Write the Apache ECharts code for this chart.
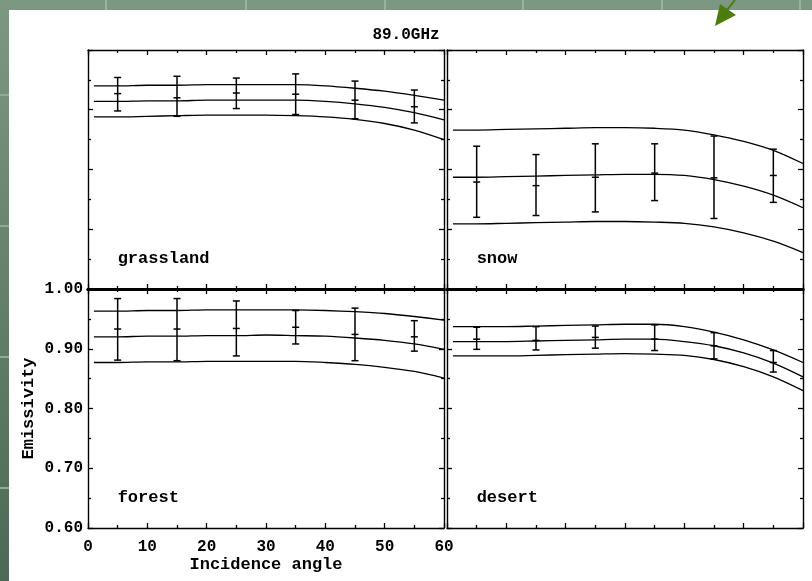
<!DOCTYPE html>
<html>
<head>
<meta charset="utf-8">
<script src="https://cdn.jsdelivr.net/npm/echarts@6/dist/echarts.min.js"></script>
<style>
html,body{margin:0;padding:0;width:812px;height:581px;overflow:hidden;}
#c{width:812px;height:581px;}
</style>
</head>
<body>
<div id="c"></div>
<script>
// ---- data ----
const titleText = '89.0GHz';
const panelNames = ['grassland', 'snow', 'forest', 'desert'];
const curveAngles = [1, 5, 10, 15, 20, 25, 30, 35, 40, 45, 50, 55, 60];
const barAngles = [5, 15, 25, 35, 45, 55];

const grasslandUpper  = [0.940, 0.940, 0.941, 0.941, 0.942, 0.942, 0.942, 0.942, 0.940, 0.936, 0.931, 0.924, 0.916];
const grasslandMiddle = [0.914, 0.914, 0.915, 0.915, 0.916, 0.916, 0.916, 0.916, 0.914, 0.910, 0.904, 0.895, 0.883];
const grasslandLower  = [0.888, 0.888, 0.889, 0.890, 0.891, 0.891, 0.891, 0.890, 0.888, 0.884, 0.877, 0.866, 0.850];
const grasslandBarHigh = [0.954, 0.956, 0.953, 0.960, 0.948, 0.933];
const grasslandBarMean = [0.927, 0.920, 0.928, 0.926, 0.916, 0.905];
const grasslandBarLow  = [0.898, 0.889, 0.902, 0.892, 0.885, 0.878];

const snowUpper  = [0.866, 0.866, 0.867, 0.868, 0.869, 0.870, 0.870, 0.869, 0.866, 0.858, 0.847, 0.832, 0.810];
const snowMiddle = [0.787, 0.787, 0.788, 0.789, 0.790, 0.791, 0.792, 0.792, 0.790, 0.783, 0.772, 0.757, 0.736];
const snowLower  = [0.709, 0.709, 0.710, 0.711, 0.712, 0.713, 0.713, 0.712, 0.710, 0.704, 0.694, 0.680, 0.661];
const snowBarHigh = [0.839, 0.825, 0.843, 0.843, 0.856, 0.834];
const snowBarMean = [0.779, 0.773, 0.787, 0.794, 0.786, 0.790];
const snowBarLow  = [0.720, 0.723, 0.729, 0.748, 0.718, 0.745];

const forestUpper  = [0.963, 0.963, 0.964, 0.964, 0.965, 0.965, 0.965, 0.965, 0.964, 0.962, 0.959, 0.954, 0.948];
const forestMiddle = [0.920, 0.920, 0.921, 0.921, 0.922, 0.922, 0.923, 0.922, 0.921, 0.918, 0.914, 0.908, 0.899];
const forestLower  = [0.877, 0.877, 0.878, 0.878, 0.879, 0.879, 0.879, 0.879, 0.877, 0.874, 0.869, 0.862, 0.851];
const forestBarHigh = [0.984, 0.984, 0.980, 0.964, 0.968, 0.947];
const forestBarMean = [0.933, 0.933, 0.934, 0.936, 0.924, 0.920];
const forestBarLow  = [0.881, 0.880, 0.888, 0.908, 0.880, 0.896];

const desertUpper  = [0.937, 0.937, 0.937, 0.938, 0.939, 0.940, 0.941, 0.941, 0.937, 0.928, 0.915, 0.898, 0.877];
const desertMiddle = [0.912, 0.912, 0.912, 0.913, 0.914, 0.915, 0.916, 0.916, 0.912, 0.905, 0.893, 0.876, 0.853];
const desertLower  = [0.888, 0.888, 0.888, 0.889, 0.890, 0.891, 0.892, 0.891, 0.889, 0.882, 0.870, 0.853, 0.830];
const desertBarHigh = [0.936, 0.937, 0.938, 0.940, 0.927, 0.897];
const desertBarMean = [0.916, 0.914, 0.919, 0.916, 0.905, 0.877];
const desertBarLow  = [0.899, 0.898, 0.901, 0.897, 0.883, 0.861];

const xMin = 0, xMax = 60, xStep = 10;
const yMin = 0.6, yMax = 1.0, yStep = 0.1;
const labelPos = [5, 0.65];

// ---- build chart ----
const FONT = "'Liberation Mono', 'DejaVu Sans Mono', monospace";
const panels = [
  {name: panelNames[0], curves: [grasslandUpper, grasslandMiddle, grasslandLower], bars: [grasslandBarLow, grasslandBarMean, grasslandBarHigh]},
  {name: panelNames[1], curves: [snowUpper, snowMiddle, snowLower], bars: [snowBarLow, snowBarMean, snowBarHigh]},
  {name: panelNames[2], curves: [forestUpper, forestMiddle, forestLower], bars: [forestBarLow, forestBarMean, forestBarHigh]},
  {name: panelNames[3], curves: [desertUpper, desertMiddle, desertLower], bars: [desertBarLow, desertBarMean, desertBarHigh]}
];

const grids = [
  {left: 88, top: 50, width: 356, height: 239},
  {left: 447, top: 50, width: 356, height: 239},
  {left: 88, top: 289, width: 356, height: 239},
  {left: 447, top: 289, width: 356, height: 239}
];

const xAxes = [], yAxes = [], series = [];
const lineW = 1.4;
grids.forEach((g, i) => {
  const isBottomRow = i >= 2;
  const isBL = i === 2;
  const common = {
    type: 'value', min: xMin, max: xMax, interval: xStep, gridIndex: i,
    splitLine: {show: false},
    axisTick: {show: true, inside: true, length: 5, lineStyle: {color: '#000', width: 1.3}},
    minorTick: {show: true, splitNumber: 2, length: 3, lineStyle: {color: '#000', width: 1.3}}
  };
  xAxes.push(Object.assign({}, common, {
    position: 'bottom',
    axisLine: {show: true, onZero: false, lineStyle: {color: '#000', width: isBottomRow ? lineW : 3}},
    axisLabel: {show: isBL, color: '#000', fontFamily: FONT, fontWeight: 'bold', fontSize: 16, margin: 11},
    name: isBL ? 'Incidence angle' : '',
    nameLocation: 'middle', nameGap: 28,
    nameTextStyle: {color: '#000', fontFamily: FONT, fontWeight: 'bold', fontSize: 17}
  }));
  xAxes.push(Object.assign({}, common, {
    position: 'top',
    axisLine: {show: true, onZero: false, lineStyle: {color: '#000', width: isBottomRow ? 3 : lineW}},
    axisLabel: {show: false}
  }));
  const ycommon = {
    type: 'value', min: yMin, max: yMax, interval: yStep, gridIndex: i,
    splitLine: {show: false},
    axisTick: {show: true, inside: true, length: 5, lineStyle: {color: '#000', width: 1.3}},
    minorTick: {show: true, splitNumber: 2, length: 3, lineStyle: {color: '#000', width: 1.3}}
  };
  yAxes.push(Object.assign({}, ycommon, {
    position: 'left',
    axisLine: {show: true, onZero: false, lineStyle: {color: '#000', width: lineW}},
    axisLabel: {show: isBL, color: '#000', fontFamily: FONT, fontWeight: 'bold', fontSize: 16, margin: 5,
      formatter: v => v.toFixed(2)},
    name: isBL ? 'Emissivity' : '',
    nameLocation: 'middle', nameGap: 51,
    nameTextStyle: {color: '#000', fontFamily: FONT, fontWeight: 'bold', fontSize: 17}
  }));
  yAxes.push(Object.assign({}, ycommon, {
    position: 'right',
    axisLine: {show: true, onZero: false, lineStyle: {color: '#000', width: lineW}},
    axisLabel: {show: false}
  }));

  const p = panels[i];
  p.curves.forEach(arr => {
    series.push({
      type: 'line', xAxisIndex: 2 * i, yAxisIndex: 2 * i,
      data: curveAngles.map((a, k) => [a, arr[k]]),
      smooth: 0.3, showSymbol: false, symbol: 'none',
      lineStyle: {color: '#000', width: 1.3},
      silent: true, animation: false
    });
  });
  series.push({
    type: 'custom', xAxisIndex: 2 * i, yAxisIndex: 2 * i,
    data: barAngles.map((a, k) => [a, p.bars[0][k], p.bars[1][k], p.bars[2][k]]),
    renderItem: function (params, api) {
      const lo = api.coord([api.value(0), api.value(1)]);
      const me = api.coord([api.value(0), api.value(2)]);
      const hi = api.coord([api.value(0), api.value(3)]);
      const w = 3.5;
      const st = {stroke: '#000', lineWidth: 1.5};
      return {
        type: 'group',
        children: [
          {type: 'line', shape: {x1: lo[0], y1: lo[1], x2: hi[0], y2: hi[1]}, style: st},
          {type: 'line', shape: {x1: lo[0] - w, y1: lo[1], x2: lo[0] + w, y2: lo[1]}, style: st},
          {type: 'line', shape: {x1: hi[0] - w, y1: hi[1], x2: hi[0] + w, y2: hi[1]}, style: st},
          {type: 'line', shape: {x1: me[0] - w, y1: me[1], x2: me[0] + w, y2: me[1]}, style: st}
        ]
      };
    },
    silent: true, animation: false
  });
  series.push({
    type: 'scatter', xAxisIndex: 2 * i, yAxisIndex: 2 * i,
    data: [labelPos], symbolSize: 0,
    itemStyle: {opacity: 1},
    label: {show: true, position: 'right', distance: 0, formatter: p.name, opacity: 1,
      color: '#000', fontFamily: FONT, fontWeight: 'bold', fontSize: 17},
    silent: true, animation: false
  });
});

const bgGraphics = [
  {type: 'rect', shape: {x: 0, y: 0, width: 812, height: 581}, z: -10, silent: true,
    style: {fill: new echarts.graphic.LinearGradient(0, 0, 0, 1, [
      {offset: 0, color: '#7d9882'}, {offset: 1, color: '#4c6957'}])}},
];
[106, 246, 385, 523, 662, 800].forEach(x => bgGraphics.push({type: 'line', z: -9, silent: true,
  shape: {x1: x, y1: 0, x2: x, y2: 10}, style: {stroke: '#9ab39d', lineWidth: 2}}));
[95, 226, 357, 488].forEach(y => bgGraphics.push({type: 'line', z: -9, silent: true,
  shape: {x1: 0, y1: y, x2: 9, y2: y}, style: {stroke: '#8fab93', lineWidth: 2}}));
bgGraphics.push({type: 'rect', shape: {x: 9, y: 10, width: 803, height: 571}, z: -8, silent: true,
  style: {fill: '#ffffff'}});
bgGraphics.push({type: 'line', z: 5, silent: true, shape: {x1: 727, y1: 10, x2: 735, y2: 0},
  style: {stroke: '#4b7c0c', lineWidth: 2}});
bgGraphics.push({type: 'polygon', z: 5, silent: true,
  shape: {points: [[715, 26], [720, 4], [736, 15]]}, style: {fill: '#4b7c0c'}});

const chart = echarts.init(document.getElementById('c'), null, {renderer: 'canvas'});
chart.setOption({
  animation: false,
  backgroundColor: 'transparent',
  title: {text: titleText, left: 'center', top: 22,
    textStyle: {color: '#000', fontFamily: FONT, fontWeight: 'bold', fontSize: 16}},
  graphic: bgGraphics,
  grid: grids,
  xAxis: xAxes,
  yAxis: yAxes,
  series: series
});
</script>
</body>
</html>
